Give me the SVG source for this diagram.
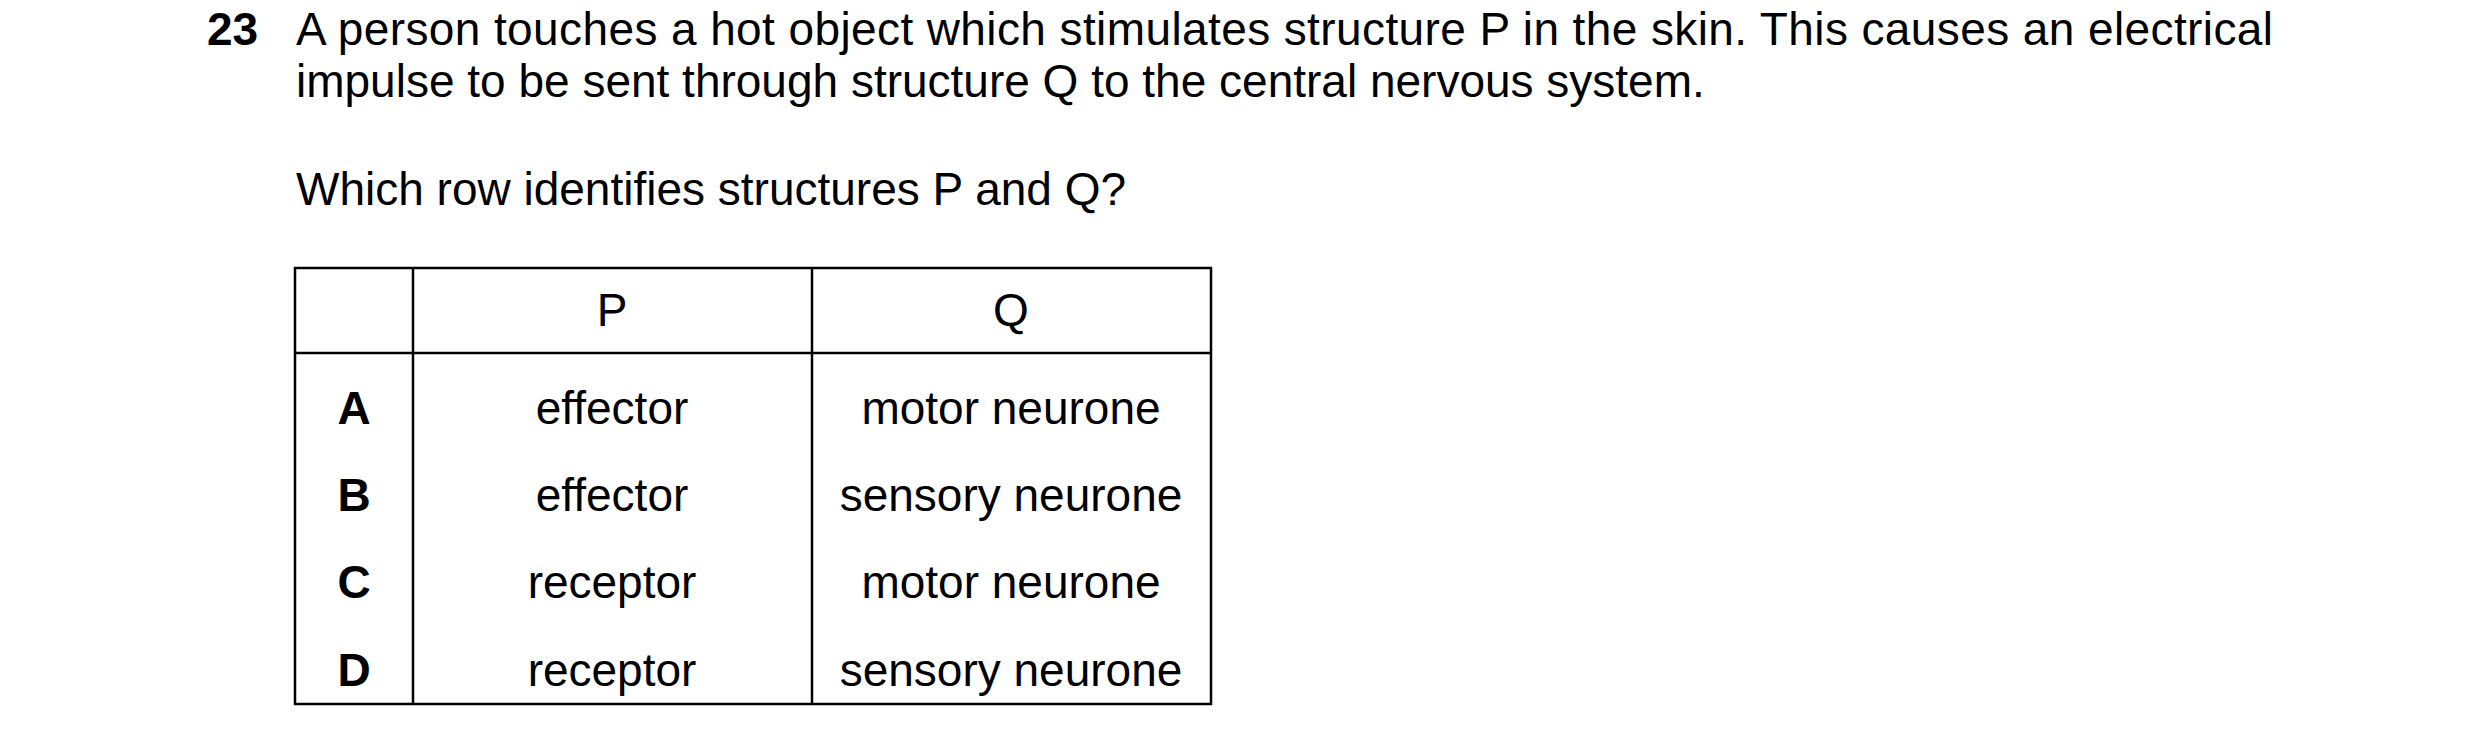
<svg xmlns="http://www.w3.org/2000/svg" width="2480" height="745" viewBox="0 0 2480 745">
<style>
text{font-family:"Liberation Sans",Arial,sans-serif;font-size:46px;fill:#000}
.b{font-weight:bold}
.c{text-anchor:middle}
.l{stroke:#000;stroke-width:2.5;fill:none}
</style>
<rect width="2480" height="745" fill="#fff"/>
<g id="question">
<text class="b" x="207" y="45">23</text>
<text x="296" y="45" textLength="1977" lengthAdjust="spacing">A person touches a hot object which stimulates structure P in the skin. This causes an electrical</text>
<text x="296" y="97">impulse to be sent through structure Q to the central nervous system.</text>
<text x="296" y="205">Which row identifies structures P and Q?</text>
</g>
<g id="table">
<rect class="l" x="295" y="268" width="916" height="436"/>
<line class="l" x1="295" y1="353" x2="1211" y2="353"/>
<line class="l" x1="413" y1="268" x2="413" y2="704"/>
<line class="l" x1="812" y1="268" x2="812" y2="704"/>
<text class="c" x="612" y="326">P</text>
<text class="c" x="1011" y="326">Q</text>
<text class="c b" x="354" y="424">A</text>
<text class="c" x="612" y="424">effector</text>
<text class="c" x="1011" y="424">motor neurone</text>
<text class="c b" x="354" y="511">B</text>
<text class="c" x="612" y="511">effector</text>
<text class="c" x="1011" y="511">sensory neurone</text>
<text class="c b" x="354" y="598">C</text>
<text class="c" x="612" y="598">receptor</text>
<text class="c" x="1011" y="598">motor neurone</text>
<text class="c b" x="354" y="686">D</text>
<text class="c" x="612" y="686">receptor</text>
<text class="c" x="1011" y="686">sensory neurone</text>
</g>
</svg>
